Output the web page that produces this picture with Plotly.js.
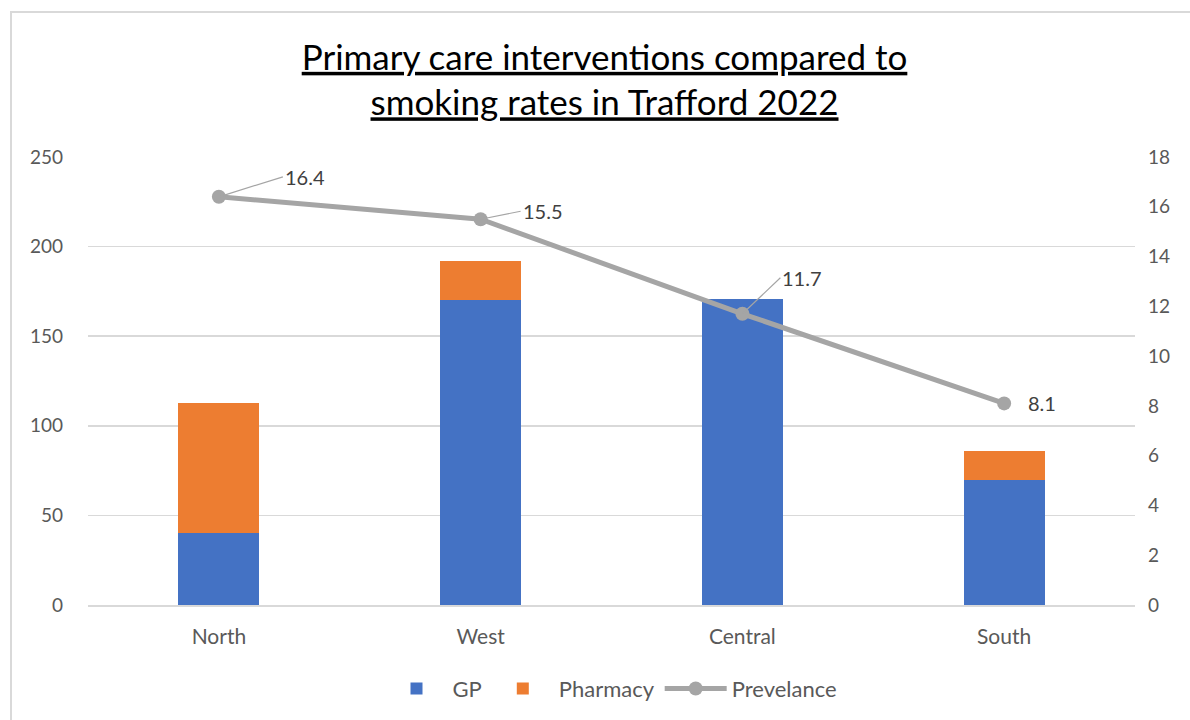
<!DOCTYPE html>
<html>
<head>
<meta charset="utf-8">
<script src="https://cdn.plot.ly/plotly-3.0.1.min.js"></script>
<style>
html,body{margin:0;padding:0;background:#fff;}
#frame{position:absolute;left:10px;top:11px;width:1200px;height:720px;border-left:2px solid #D9D9D9;border-top:2px solid #D9D9D9;pointer-events:none;z-index:5;}
#chart{position:absolute;left:0;top:0;width:1190px;height:720px;}
</style>
</head>
<body>
<div id="chart"></div>
<div id="frame"></div>
<script>
var categories = ["North", "West", "Central", "South"];
var gpValues = [40, 170, 171, 70];
var pharmacyValues = [73, 22, 0, 16];
var prevalence = [16.4, 15.5, 11.7, 8.1];
var leftTicks = [0, 50, 100, 150, 200, 250];
var rightTicks = [0, 2, 4, 6, 8, 10, 12, 14, 16, 18];

var fontFam = "Lato, 'Noto Sans', sans-serif";
var textCol = "#595959";

var traces = [
  {type: "bar", name: "GP", x: categories, y: gpValues, marker: {color: "#4472C4"}, width: 0.31, hoverinfo: "y"},
  {type: "bar", name: "Pharmacy", x: categories, y: pharmacyValues, marker: {color: "#ED7D31"}, width: 0.31, hoverinfo: "y"},
  {type: "scatter", mode: "lines+markers", name: "Prevelance", x: categories, y: prevalence, yaxis: "y2",
   line: {color: "#A5A5A5", width: 5}, marker: {color: "#A5A5A5", size: 14}}
];

var offsets = [[64, -20], [40, -8], [38, -36], [0, 0]];
var annotations = prevalence.map(function (v, i) {
  var o = offsets[i];
  var last = (o[0] === 0 && o[1] === 0);
  return {
    x: categories[i], y: v, xref: "x", yref: "y2",
    text: String(v),
    showarrow: !last,
    ax: o[0], ay: o[1],
    arrowhead: 0, arrowwidth: 1.2, arrowcolor: "#A5A5A5",
    xanchor: "left", yanchor: "middle",
    xshift: last ? 22 : 0,
    font: {family: fontFam, size: 20, color: "#404040"}
  };
});

var layout = {
  width: 1190, height: 720,
  margin: {l: 88, r: 55, t: 157, b: 115, autoexpand: false},
  paper_bgcolor: "#fff", plot_bgcolor: "#fff",
  barmode: "stack",
  bargap: 0.69,
  title: {
    text: "<u>Primary care interventions compared to</u><br><u>smoking rates in Trafford 2022</u>",
    x: 0.508, xanchor: "center", y: 0.903, yanchor: "top",
    font: {family: fontFam, size: 35, color: "#000"}
  },
  xaxis: {
    type: "category",
    tickfont: {family: fontFam, size: 21, color: textCol},
    showline: true, linecolor: "#D9D9D9", linewidth: 1.5,
    ticks: "", showgrid: false, ticklabelstandoff: 12
  },
  yaxis: {
    range: [0, 250], tickvals: leftTicks,
    tickfont: {family: fontFam, size: 19, color: textCol},
    gridcolor: "#D9D9D9", gridwidth: 1.5, zeroline: false,
    ticks: "", ticklabelstandoff: 24, showline: false
  },
  yaxis2: {
    overlaying: "y", side: "right",
    range: [0, 18], tickvals: rightTicks,
    tickfont: {family: fontFam, size: 19, color: textCol},
    showgrid: false, zeroline: false, ticks: "", ticklabelstandoff: 12
  },
  legend: {
    orientation: "h", x: 0.5, xanchor: "center", y: -0.14, yanchor: "top",
    font: {family: fontFam, size: 22, color: textCol},
    traceorder: "normal", itemwidth: 62
  },
  annotations: annotations,
  showlegend: true
};

Plotly.newPlot("chart", traces, layout, {displayModeBar: false, staticPlot: true});
</script>
</body>
</html>
